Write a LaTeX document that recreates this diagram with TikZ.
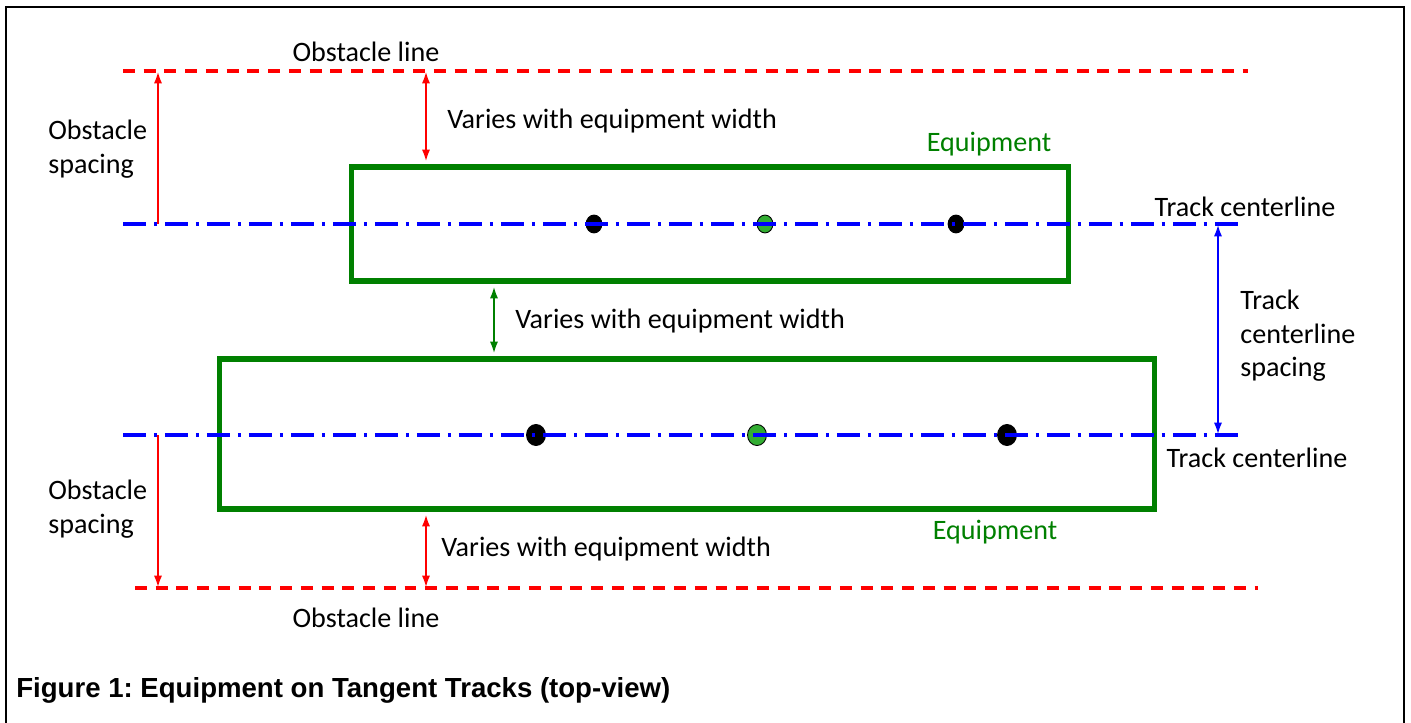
\documentclass[tikz,border=0pt]{standalone}
\usepackage{fontspec}
\setmainfont{Carlito}
\newfontfamily\capfont{Liberation Sans}
\usetikzlibrary{arrows.meta,shapes.geometric}
\frenchspacing

\tikzset{
	obstline/.style={red, line width=2pt, dash pattern=on 6.8pt off 5pt},
	trackline/.style={blue, line width=2.1pt, dash pattern=on 13pt off 4.6pt on 1.7pt off 4.6pt},
	equip/.style={draw=green!50!black, line width=2.9pt, inner sep=0pt},
	dimline/.style={line width=1.5pt},
	lbl/.style={inner sep=0pt, font=\fontsize{16}{19}\selectfont},
	wheel/.style={ellipse, draw=black, line width=0.5pt, inner sep=0pt},
}

\begin{document}
\begin{tikzpicture}[x=0.02cm, y=-0.02cm, >={Latex[length=7pt,width=4.6pt]}]
		\useasboundingbox (0,0) rectangle (1411,723);
		\draw[line width=1.3pt] (6,723) -- (6,7) -- (1404,7) -- (1404,723);

		% equipment
		\node[equip, minimum width=14.36cm, minimum height=2.28cm] (eqU) at (710,224) {};
		\node[equip, minimum width=18.72cm, minimum height=3cm]    (eqL) at (687,434) {};

		% wheels
		\node[wheel, fill=black, minimum width=9pt, minimum height=10.2pt] (wU1) at (594,224) {};
		\node[wheel, fill=green!60!black!80, minimum width=9pt, minimum height=10.2pt] (wU2) at (765,224) {};
		\node[wheel, fill=black, minimum width=9pt, minimum height=10.2pt] (wU3) at (956,224) {};
		\node[wheel, fill=black, minimum width=10.8pt, minimum height=12pt] (wL1) at (536,435) {};
		\node[wheel, fill=green!60!black!80, minimum width=10.8pt, minimum height=12pt] (wL2) at (757,435) {};
		\node[wheel, fill=black, minimum width=10.8pt, minimum height=12pt] (wL3) at (1007,435) {};

		% lines
		\coordinate (oTl) at (123,71);  \coordinate (oTr) at (1248,71);
		\coordinate (oBl) at (135,588); \coordinate (oBr) at (1258,588);
		\coordinate (tUl) at (123,224); \coordinate (tUr) at (1245,224);
		\coordinate (tLl) at (123,435); \coordinate (tLr) at (1245,435);
		\draw[obstline] (oTl) -- (oTr);
		\draw[obstline] (oBl) -- (oBr);
		\draw[trackline] (tUl) -- (tUr);
		\draw[trackline] (tLl) -- (tLr);

		% dimensions
		\coordinate (xs) at (158,0);
		\coordinate (xa) at (426,0);
		\coordinate (xg) at (494,0);
		\coordinate (xt) at (1218,0);
		\draw[dimline, red, ->] (xs |- tUl) -- (xs |- oTl);
		\draw[dimline, red, ->] (xs |- tLl) -- (xs |- oBl);
		\draw[dimline, red, <->] (xa |- oTl) -- ([yshift=1.4pt]xa |- eqU.north);
		\draw[dimline, red, <->] ([yshift=-1.4pt]xa |- eqL.south) -- (xa |- oBl);
		\draw[dimline, green!50!black, <->] ([yshift=-1.4pt]xg |- eqU.south) -- ([yshift=1.4pt]xg |- eqL.north);
		\draw[dimline, blue, <->] (xt |- tUl) -- (xt |- tLl);

		% labels
		\node[lbl] (obsT) at (366,52) {Obstacle line};
		\node[lbl] (obsB) at (366,618) {Obstacle line};
		\node[lbl, anchor=west] (varT) at (447,121) {Varies with equipment width};
		\node[lbl, anchor=west] (varM) at (515,321) {Varies with equipment width};
		\node[lbl, anchor=west] (varB) at (441,549) {Varies with equipment width};
		\node[lbl, green!50!black] (eqTxtU) at (989,144) {Equipment};
		\node[lbl, green!50!black] (eqTxtL) at (995,532) {Equipment};
		\node[lbl, anchor=west, align=left] (spT) at (48,149) {Obstacle\\spacing};
		\node[lbl, anchor=west, align=left] (spB) at (48,509) {Obstacle\\spacing};
		\node[lbl] (tcU) at (1245,207) {Track centerline};
		\node[lbl] (tcL) at (1257,458) {Track centerline};
		\node[lbl, anchor=west, align=left] (tcs) at (1240,336) {Track\\centerline\\spacing};
		\node[inner sep=0pt, anchor=west, font=\capfont\bfseries\fontsize{15.7}{18}\selectfont] (cap) at (16,690) {Figure 1: Equipment on Tangent Tracks (top-view)};
	\end{tikzpicture}
\end{document}
